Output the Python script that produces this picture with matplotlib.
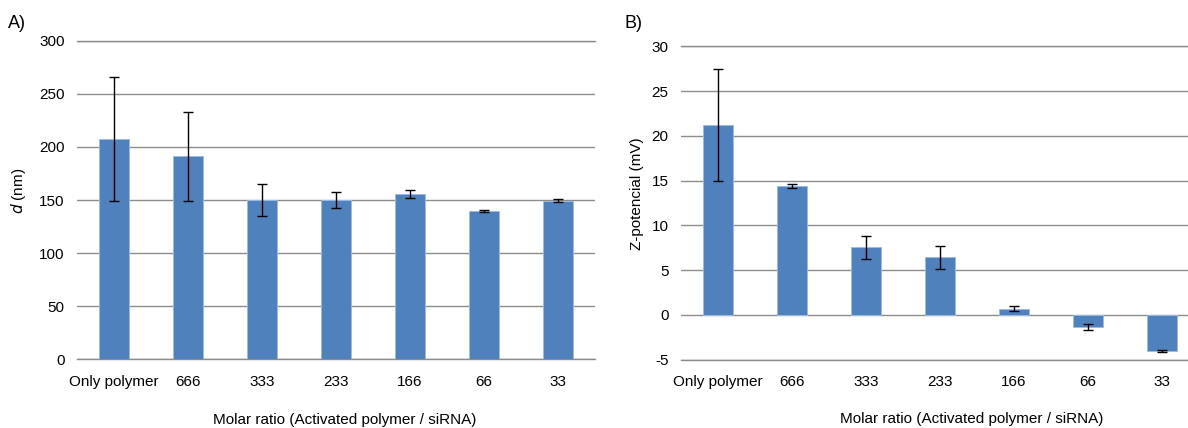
import numpy as np
import matplotlib
matplotlib.use("Agg")
import matplotlib.pyplot as plt

plt.rcParams['font.family'] = ['Liberation Sans', 'DejaVu Sans']
plt.rcParams['axes.unicode_minus'] = False

categories = ["Only polymer", "666", "333", "233", "166", "66", "33"]

# panel A: hydrodynamic diameter (nm)
size_mean = [207.2, 191.1, 149.8, 149.7, 155.5, 139.9, 149.4]
size_err = [58.4, 42.0, 14.8, 7.5, 3.5, 0.8, 1.2]

# panel B: zeta potential (mV)
zeta_mean = [21.2, 14.4, 7.55, 6.45, 0.7, -1.35, -4.03]
zeta_err = [6.27, 0.23, 1.27, 1.27, 0.26, 0.35, 0.07]

bar_color = "#4F81BD"
grid_color = "#8C8C8C"
W, H = 1188, 428

fig = plt.figure(figsize=(W / 100, H / 100), dpi=100)

def make_panel(rect, values, errs, ylim, yticks, ylabel, xlabel_x, ylabel_x):
    ax = fig.add_axes(rect)
    x = np.arange(len(categories))
    ax.bar(x, values, width=0.41, color=bar_color, edgecolor="#9DBBE0",
           linewidth=0.7, zorder=2)
    ax.errorbar(x, values, yerr=errs, fmt="none", ecolor="black",
                elinewidth=1, capsize=3.5, capthick=1, zorder=3)
    ax.set_xlim(-0.5, len(categories) - 0.5)
    ax.set_ylim(*ylim)
    ax.set_yticks(yticks)
    ax.set_xticks(x)
    ax.set_xticklabels(categories)
    for s in ax.spines.values():
        s.set_visible(False)
    ax.yaxis.grid(True, color=grid_color, linewidth=1, zorder=0)
    # edge gridlines so they are not clipped in half
    for yv in ylim:
        ax.axhline(yv, color=grid_color, linewidth=1, zorder=1, clip_on=False)
    ax.set_axisbelow(True)
    ax.tick_params(axis="both", length=0, labelsize=11)
    ax.tick_params(axis="x", pad=11)
    ax.tick_params(axis="y", pad=9)
    ax.set_ylabel(ylabel, fontsize=11)
    ax.yaxis.set_label_coords(ylabel_x, 0.53)
    ax.set_xlabel("Molar ratio (Activated polymer / siRNA)", fontsize=11)
    ax.xaxis.label.set_va("center")
    ax.xaxis.set_label_coords(xlabel_x, -0.19)
    return ax

axA = make_panel([77 / W, 1 - 359.3 / H, 518 / W, 318.6 / H],
                 size_mean, size_err, (0, 300), np.arange(0, 301, 50),
                 r"$d$ (nm)", 0.517, -0.095)
axB = make_panel([681 / W, 1 - 359.7 / H, 518 / W, 313.4 / H],
                 zeta_mean, zeta_err, (-5, 30), np.arange(-5, 31, 5),
                 "Z-potencial (mV)", 0.562, -0.071)

fig.text(8 / W, 1 - 23 / H, "A)", fontsize=13, va="center")
fig.text(624 / W, 1 - 24 / H, "B)", fontsize=13, va="center")

fig.savefig("out.png", dpi=100)
